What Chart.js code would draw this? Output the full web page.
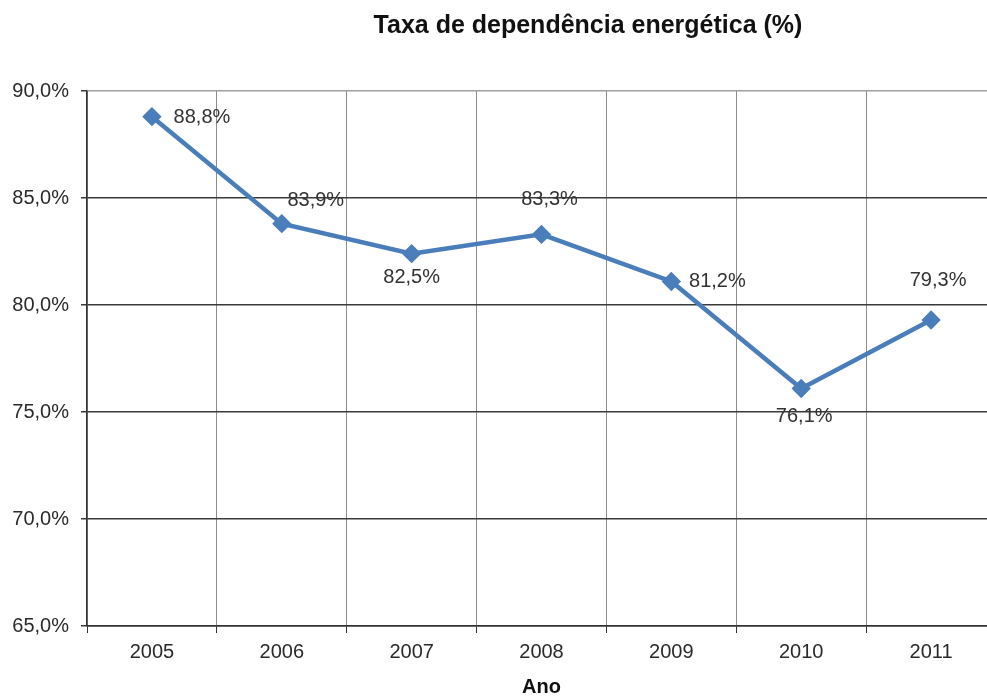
<!DOCTYPE html>
<html>
<head>
<meta charset="utf-8">
<script src="https://cdn.jsdelivr.net/npm/chart.js@4/dist/chart.umd.min.js"></script>
<style>
  html, body { margin: 0; padding: 0; background: #fff; overflow: hidden; }
  #wrap { position: relative; width: 1007px; height: 699px; }
</style>
</head>
<body>
<div id="wrap"><canvas id="chart" width="1007" height="699"></canvas></div>
<script>
/* ===== DATA ===== */
const YEARS = ["2005", "2006", "2007", "2008", "2009", "2010", "2011"];
const DEPENDENCIA = [88.8, 83.8, 82.4, 83.3, 81.1, 76.1, 79.3];
const LABELS = ["88,8%", "83,9%", "82,5%", "83,3%", "81,2%", "76,1%", "79,3%"];
const Y_MIN = 65;
const Y_MAX = 90;
const Y_STEP = 5;
const TITLE = "Taxa de dependência energética (%)";
const X_TITLE = "Ano";
/* ================ */

const FONT = '"Liberation Sans", Arial, sans-serif';
const BLUE = "#4a7ebb";

// where each value label sits, relative to its point (label centre)
const labelOffsets = [
  [50, 1], [34, -23], [0, 24], [8, -35], [46, 0], [3, 28], [7, -39]
];

const titlePlugin = {
  id: "bigTitle",
  afterDraw(chart) {
    const ctx = chart.ctx;
    ctx.save();
    ctx.font = "bold 25px " + FONT;
    ctx.fillStyle = "#111";
    ctx.textAlign = "center";
    ctx.textBaseline = "alphabetic";
    ctx.fillText(TITLE, 588, 33);
    ctx.restore();
  }
};

const valueLabels = {
  id: "valueLabels",
  afterDatasetsDraw(chart) {
    const ctx = chart.ctx;
    const meta = chart.getDatasetMeta(0);
    ctx.save();
    ctx.font = "20px " + FONT;
    ctx.fillStyle = "#333";
    ctx.textAlign = "center";
    ctx.textBaseline = "middle";
    meta.data.forEach((pt, i) => {
      const off = labelOffsets[i] || [0, -20];
      ctx.fillText(LABELS[i], pt.x + off[0], pt.y + off[1]);
    });
    ctx.restore();
  }
};

new Chart(document.getElementById("chart"), {
  type: "line",
  data: {
    labels: YEARS,
    datasets: [
      {
        data: DEPENDENCIA,
        borderColor: BLUE,
        backgroundColor: BLUE,
        borderWidth: 4.5,
        pointStyle: "rectRot",
        pointRadius: 6.5,
        pointBackgroundColor: BLUE,
        pointBorderColor: BLUE,
        tension: 0
      }
    ]
  },
  options: {
    responsive: false,
    animation: false,
    layout: { padding: { top: 91, right: 3, bottom: 0, left: 0 } },
    plugins: {
      legend: { display: false },
      tooltip: { enabled: false },
      title: { display: false }
    },
    scales: {
      x: {
        type: "category",
        offset: true,
        grid: {
          offset: true,
          color: "#8c8c8c",
          lineWidth: 1,
          tickLength: 7,
          tickColor: "#333"
        },
        border: { color: "#333", width: 1.5 },
        ticks: {
          color: "#2a2a2a",
          font: { family: FONT, size: 20 },
          padding: 7
        },
        title: {
          display: true,
          text: X_TITLE,
          color: "#111",
          font: { family: FONT, size: 20, weight: "bold" },
          padding: { top: 0, bottom: 0 }
        },
        afterFit(scale) { scale.height = 73; }
      },
      y: {
        min: Y_MIN,
        max: Y_MAX,
        grid: {
          color: (c) => (c.tick && c.tick.value === Y_MAX ? "#a0a0a0" : "#3a3a3a"),
          lineWidth: 1.5,
          tickLength: 6,
          tickColor: "#3a3a3a"
        },
        border: { color: "#333", width: 1.5 },
        ticks: {
          stepSize: Y_STEP,
          color: "#2a2a2a",
          font: { family: FONT, size: 20 },
          padding: 12,
          callback: (v) => v.toFixed(1).replace(".", ",") + "%"
        },
        afterFit(scale) { scale.width = 87; }
      }
    }
  },
  plugins: [titlePlugin, valueLabels]
});
</script>
</body>
</html>
